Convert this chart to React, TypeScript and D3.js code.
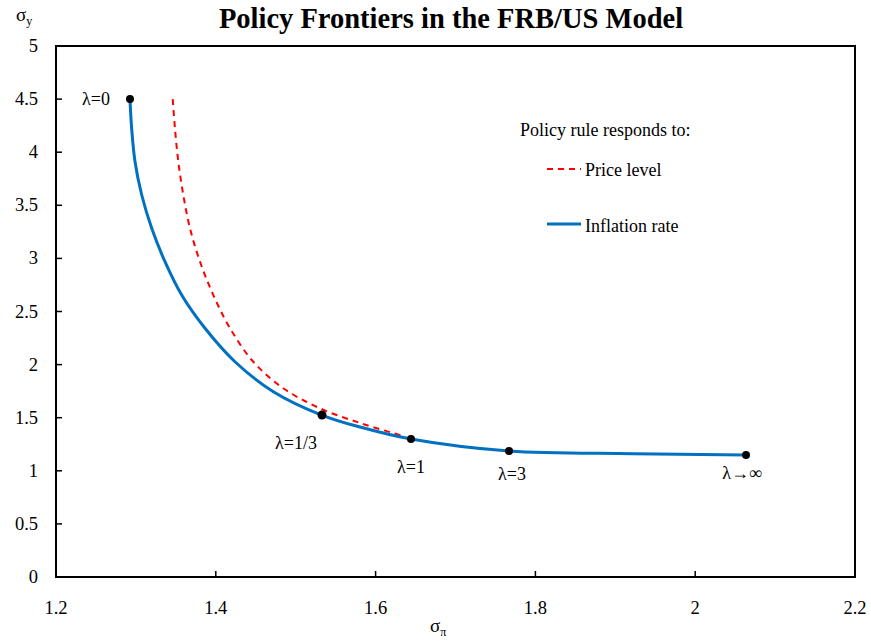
import React from "react";
import * as d3 from "d3";

// frontier: sigma_pi (x) vs sigma_y (y)
const inflationX = [1.2926, 1.2947, 1.2989, 1.3073, 1.3198, 1.3364, 1.3573, 1.3865, 1.424, 1.472, 1.5325, 1.5805, 1.6443, 1.767, 1.9222, 2.0636];
const inflationY = [4.5, 4.222, 3.91, 3.597, 3.283, 2.969, 2.655, 2.342, 2.027, 1.745, 1.525, 1.412, 1.299, 1.186, 1.161, 1.149];
const priceX = [1.3461, 1.3489, 1.3531, 1.3593, 1.3677, 1.3802, 1.3969, 1.4178, 1.4469, 1.4845, 1.5304, 1.5805, 1.6218, 1.634];
const priceY = [4.5, 4.222, 3.91, 3.597, 3.283, 2.969, 2.655, 2.342, 2.027, 1.777, 1.588, 1.45, 1.356, 1.33];

const lambdaLabels = ["λ=0", "λ=1/3", "λ=1", "λ=3", "λ→∞"];
const lambdaX = [1.2926, 1.5329, 1.6443, 1.767, 2.0636];
const lambdaY = [4.5, 1.525, 1.299, 1.186, 1.149];

const xTicks = [1.2, 1.4, 1.6, 1.8, 2, 2.2];
const yTicks = [0, 0.5, 1, 1.5, 2, 2.5, 3, 3.5, 4, 4.5, 5];

const W = 871, H = 642;
const left = 56, right = 855, top = 46, bottom = 577;
const font = "Liberation Serif, Times New Roman, serif";

// label offsets (dx, dy, anchor) per lambda point
const labelPos: [number, number, string][] = [
  [-20, 6, "end"],
  [-26, 34, "middle"],
  [0, 34, "middle"],
  [3, 29, "middle"],
  [-4, 24, "middle"],
];

export default function App() {
  const x = d3.scaleLinear().domain([1.2, 2.2]).range([left, right]);
  const y = d3.scaleLinear().domain([0, 5]).range([bottom, top]);

  const line = d3
    .line<number>()
    .x((d) => x(d))
    .curve(d3.curveCatmullRom.alpha(0.5));

  const blue = line.y((_, i) => y(inflationY[i]))(inflationX) || "";
  const red = line.y((_, i) => y(priceY[i]))(priceX) || "";

  return (
    <svg width={W} height={H} style={{ position: "absolute", left: 0, top: 0, fontFamily: font }}>
      <rect width={W} height={H} fill="#fff" />
      <text x={451} y={28} textAnchor="middle" fontSize={28.5} fontWeight="bold">
        Policy Frontiers in the FRB/US Model
      </text>

      {/* axes box */}
      <rect x={left} y={top} width={right - left} height={bottom - top} fill="none" stroke="#000" strokeWidth={2} />

      {yTicks.map((t) => (
        <g key={"y" + t}>
          <line x1={left} x2={left + 6} y1={y(t)} y2={y(t)} stroke="#000" strokeWidth={1.5} />
          <text x={38} y={y(t) + 6} textAnchor="end" fontSize={18.5}>
            {t}
          </text>
        </g>
      ))}
      {xTicks.map((t) => (
        <g key={"x" + t}>
          <line x1={x(t)} x2={x(t)} y1={bottom} y2={bottom - 6} stroke="#000" strokeWidth={1.5} />
          <text x={x(t)} y={614} textAnchor="middle" fontSize={18.5}>
            {t}
          </text>
        </g>
      ))}

      <text x={16} y={21} fontSize={19}>
        σ<tspan fontSize={12} dy={4}>y</tspan>
      </text>
      <text x={430} y={632} fontSize={19}>
        σ<tspan fontSize={12} dy={4}>π</tspan>
      </text>

      <path d={red} fill="none" stroke="#FF0000" strokeWidth={2} strokeDasharray="6,5" />
      <path d={blue} fill="none" stroke="#0070C0" strokeWidth={3} />

      {lambdaX.map((lx, i) => (
        <g key={lambdaLabels[i]}>
          <circle cx={x(lx)} cy={y(lambdaY[i])} r={i === 1 ? 4.5 : 4} fill="#000" />
          <text
            x={x(lx) + labelPos[i][0]}
            y={y(lambdaY[i]) + labelPos[i][1]}
            textAnchor={labelPos[i][2] as any}
            fontSize={18}
          >
            {lambdaLabels[i]}
          </text>
        </g>
      ))}

      {/* legend */}
      <text x={520} y={136} fontSize={18}>Policy rule responds to:</text>
      <line x1={547} x2={581} y1={169} y2={169} stroke="#FF0000" strokeWidth={2} strokeDasharray="6,5" />
      <text x={585} y={176} fontSize={18}>Price level</text>
      <line x1={547} x2={581} y1={224} y2={224} stroke="#0070C0" strokeWidth={3} />
      <text x={585} y={232} fontSize={18}>Inflation rate</text>
    </svg>
  );
}
